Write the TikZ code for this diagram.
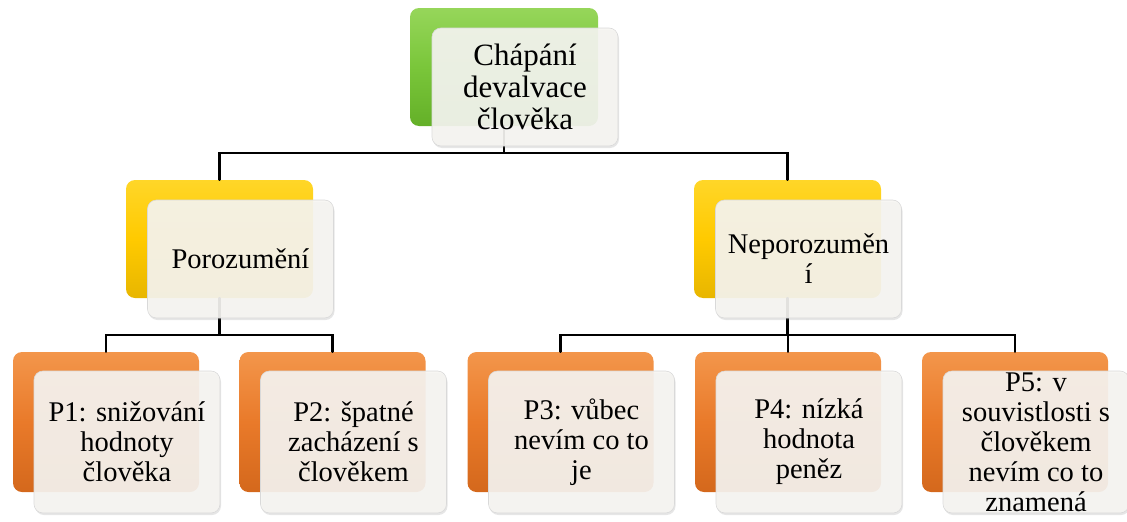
\documentclass[tikz,border=0pt]{standalone}
\usepackage{fontspec}
\setmainfont{Liberation Serif}
\usepackage{tikz}
\usetikzlibrary{shadows}

\begin{document}
\begin{tikzpicture}
	[x=1pt,y=-1pt,line cap=round,
	%Styles
	backbox/.style={rounded corners=9pt,inner sep=0pt,minimum height=#1},
	green box/.style={backbox=118pt,minimum width=188pt,top color=greentop,bottom color=greenbot,middle color=greenmid},
	yellow box/.style={backbox=118pt,minimum width=187pt,top color=yellowtop,bottom color=yellowbot,middle color=yellowmid},
	orange box/.style={backbox=140pt,minimum width=186pt,top color=orangetop,bottom color=orangebot,middle color=orangemid},
	frontbox/.style={rounded corners=9pt,inner sep=0pt,minimum width=186pt,minimum height=#1,
		fill=frontfill,fill opacity=0.91,text opacity=1,draw=gray!30,line width=0.6pt,
		drop shadow={opacity=0.2,shadow xshift=1pt,shadow yshift=-2pt},
		align=center,text=black,font=\fontsize{28.5}{30}\selectfont},
	connector/.style={black,line width=2.3pt}
	]
	
	%Colors
	\definecolor{greentop}{RGB}{150,214,90}
	\definecolor{greenmid}{RGB}{122,198,58}
	\definecolor{greenbot}{RGB}{100,176,40}
	\definecolor{yellowtop}{RGB}{255,214,40}
	\definecolor{yellowmid}{RGB}{255,202,0}
	\definecolor{yellowbot}{RGB}{232,182,0}
	\definecolor{orangetop}{RGB}{243,150,75}
	\definecolor{orangemid}{RGB}{233,122,42}
	\definecolor{orangebot}{RGB}{212,104,28}
	\definecolor{frontfill}{RGB}{246,245,242}
	
	%The graphic
	\useasboundingbox (0,0) rectangle (1127,522);
	
	% back boxes
	\node[green box] (root) at (504,67) {};
	\node[yellow box] (por) at (219.5,239) {};
	\node[yellow box] (nepor) at (787.5,239) {};
	\node[orange box] (pa) at (106,422) {};
	\node[orange box] (pb) at (332.5,422) {};
	\node[orange box] (pc) at (560.5,422) {};
	\node[orange box] (pd) at (788,422) {};
	\node[orange box] (pe) at (1015,422) {};
	
	% connectors
	\draw[connector] (root.south) -- ++(0,27) -| (por.north);
	\draw[connector] (root.south) -- ++(0,27) -| (nepor.north);
	\draw[connector] (por.south) -- ++(0,37) -| (pa.north);
	\draw[connector] (por.south) -- ++(0,37) -| (pb.north);
	\draw[connector] (nepor.south) -- ++(0,37) -| (pc.north);
	\draw[connector] (nepor.south) -- ++(0,37) -| (pd.north);
	\draw[connector] (nepor.south) -- ++(0,37) -| (pe.north);
	
	% front boxes
	\node[frontbox=118pt,font=\fontsize{31}{32}\selectfont] (rootf) at ([shift={(21,20)}]root) {Chápání\\devalvace\\člověka};
	\node[frontbox=118pt] (porf) at ([shift={(21,20)}]por) {Porozumění};
	\node[frontbox=118pt] (neporf) at ([shift={(21,20)}]nepor) {Neporozuměn\\í};
	\node[frontbox=142pt] (paf) at ([shift={(21,20)}]pa) {P1: snižování\\hodnoty\\člověka};
	\node[frontbox=142pt] (pbf) at ([shift={(21,20)}]pb) {P2: špatné\\zacházení s\\člověkem};
	\node[frontbox=142pt] (pcf) at ([shift={(21,20)}]pc) {P3: vůbec\\nevím co to\\je};
	\node[frontbox=142pt] (pdf) at ([shift={(21,20)}]pd) {P4: nízká\\hodnota\\peněz};
	\node[frontbox=142pt] (pef) at ([shift={(21,20)}]pe) {P5: v\\souvistlosti s\\člověkem\\nevím co to\\znamená};
\end{tikzpicture}
\end{document}
